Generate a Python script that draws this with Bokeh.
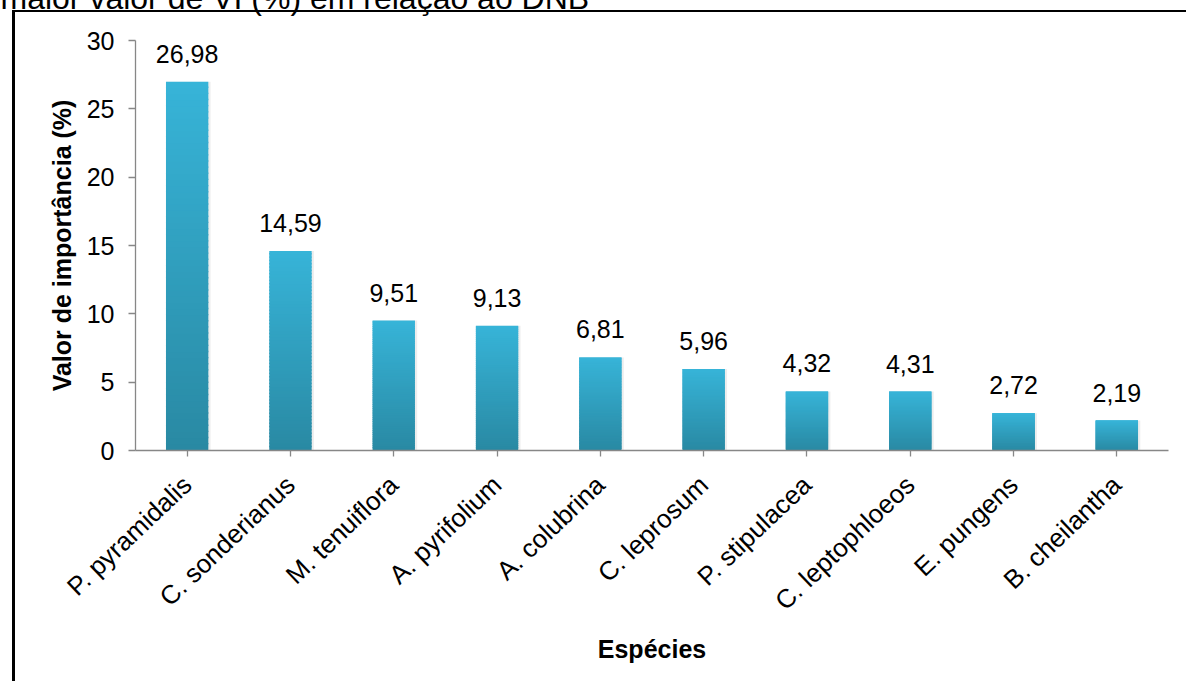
import numpy as np
from bokeh.plotting import figure
from bokeh.models import ColumnDataSource, FixedTicker, Range1d, InlineStyleSheet
from bokeh.core.properties import value
from bokeh.transform import dodge
from bokeh.embed import file_html
from bokeh.resources import INLINE

# ---- data -----------------------------------------------------------------
species = ["P. pyramidalis", "C. sonderianus", "M. tenuiflora", "A. pyrifolium",
           "A. colubrina", "C. leprosum", "P. stipulacea", "C. leptophloeos",
           "E. pungens", "B. cheilantha"]
vi_values = [26.98, 14.59, 9.51, 9.13, 6.81, 5.96, 4.32, 4.31, 2.72, 2.19]
y_ticks = [0, 5, 10, 15, 20, 25, 30]
top_text = "maior valor de VI (%) em relação ao DNB"
x_title = "Espécies"
y_title = "Valor de importância (%)"

# ---- layout ---------------------------------------------------------------
W, H = 1186, 681
SHIFT = 60                            # page is pulled up by this much
FL, FR, FT, FB = 135, 1168, 40, 450   # plot frame edges on the page (px)
YMAX = 30
FONT = "Liberation Sans"
AXIS_GREY = "#878787"

# black rule lines at the left and top of the page
frame_css = InlineStyleSheet(css=f"""
:host {{ position: relative; }}
:host::before {{ content: ""; position: absolute; z-index: 50;
  left: 12px; top: {10 + SHIFT}px; width: 3px; bottom: 0; background: #000; }}
:host::after {{ content: ""; position: absolute; z-index: 50;
  left: 12px; right: 0; top: {10 + SHIFT}px; height: 2px; background: #000; }}
""")

p = figure(width=W, height=H + SHIFT, x_range=species, y_range=Range1d(0, YMAX),
           output_backend="svg", toolbar_location=None,
           min_border_left=FL, min_border_right=W - FR,
           min_border_top=FT + SHIFT, min_border_bottom=H - FB,
           background_fill_color="white", border_fill_color="white",
           outline_line_color=None,
           styles={"margin-top": f"-{SHIFT}px"}, stylesheets=[frame_css])
p.xgrid.visible = False
p.ygrid.visible = False

# ---- text above the chart (partly off the page top) ------------------------
p.title.text = top_text
p.title.align = "left"
p.title.offset = -FL
p.title.vertical_align = "bottom"
p.title.standoff = 49
p.title.text_font = FONT
p.title.text_font_size = "32px"
p.title.text_font_style = "normal"
p.title.text_color = "black"

# ---- bars: soft drop shadow, then a vertical gradient made of thin slices ---
labels = [f"{v:.2f}".replace(".", ",") for v in vi_values]
src = ColumnDataSource(dict(sp=species, vi=vi_values, lab=labels))

p.vbar(x=dodge("sp", 0.012, range=p.x_range), top="vi", bottom=0, width=0.43,
       source=src, fill_color="black", fill_alpha=0.07, line_color=None)

N = 60
top_rgb = np.array([0x37, 0xB4, 0xD8], dtype=float)
bot_rgb = np.array([0x29, 0x89, 0xA3], dtype=float)
overlap = 0.1   # each slice reaches a little into the next one to hide seams
sx, sb, st, sc = [], [], [], []
for s, v in zip(species, vi_values):
    for k in range(N):
        f0, f1 = k / N, (k + 1) / N
        t = (f0 + f1) / 2
        c = bot_rgb + (top_rgb - bot_rgb) * t
        sx.append(s)
        sb.append(v * f0)
        st.append(min(v, v * f1 + overlap))
        sc.append("#%02x%02x%02x" % tuple(int(round(q)) for q in c))
slices = ColumnDataSource(dict(x=sx, b=sb, t=st, c=sc))
p.vbar(x="x", bottom="b", top="t", width=0.41, source=slices,
       fill_color="c", line_color=None)

# value labels above each bar
p.text(x="sp", y="vi", text="lab", source=src, y_offset=-28,
       text_align="center", text_baseline="alphabetic",
       text_font=value(FONT), text_font_size="25px", text_color="black")

# ---- axes -----------------------------------------------------------------
ya = p.yaxis[0]
ya.ticker = FixedTicker(ticks=y_ticks)
ya.axis_line_color = AXIS_GREY
ya.axis_line_width = 1.3
ya.major_tick_line_color = AXIS_GREY
ya.major_tick_line_width = 1.3
ya.major_tick_out = 7
ya.major_tick_in = 0
ya.minor_tick_line_color = None
ya.major_label_text_font = FONT
ya.major_label_text_font_size = "25px"
ya.major_label_text_color = "black"
ya.major_label_standoff = 14
ya.axis_label = y_title
ya.axis_label_text_font = FONT
ya.axis_label_text_font_size = "25px"
ya.axis_label_text_font_style = "bold"
ya.axis_label_text_color = "black"
ya.axis_label_standoff = 8

xa = p.xaxis[0]
xa.axis_line_color = AXIS_GREY
xa.axis_line_width = 1.3
xa.major_tick_line_color = AXIS_GREY
xa.major_tick_line_width = 1.3
xa.major_tick_out = 6
xa.major_tick_in = 0
xa.major_label_orientation = 0.76
xa.major_label_text_font = FONT
xa.major_label_text_font_size = "26px"
xa.major_label_text_color = "black"
xa.major_label_standoff = 24
xa.axis_label = x_title
xa.axis_label_text_font = FONT
xa.axis_label_text_font_size = "25px"
xa.axis_label_text_font_style = "bold"
xa.axis_label_text_color = "black"
xa.axis_label_standoff = 5

open("out.html", "w").write(file_html(p, INLINE))
